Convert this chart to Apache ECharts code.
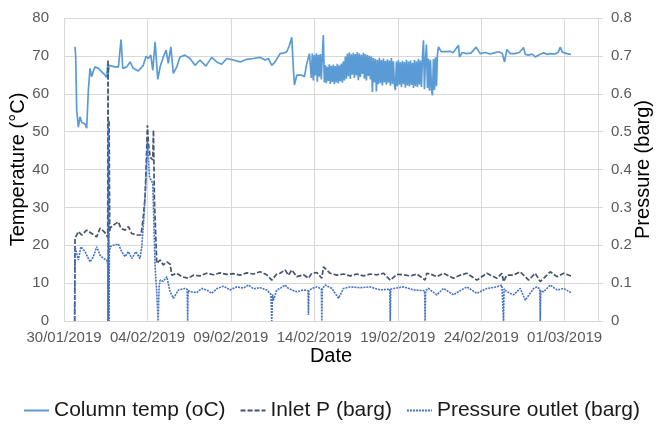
<!DOCTYPE html>
<html><head><meta charset="utf-8">
<script src="https://cdn.jsdelivr.net/npm/echarts/dist/echarts.min.js"></script>
<style>html,body{margin:0;padding:0;background:#fff}#c{width:663px;height:430px}</style>
</head><body><div id="c"></div>
<script>
// x values are days after 30/01/2019
const dateLabels = ['30/01/2019','04/02/2019','09/02/2019','14/02/2019','19/02/2019','24/02/2019','01/03/2019'];
const tempTicks = [0,10,20,30,40,50,60,70,80];
const pressTicks = ['0','0.1','0.2','0.3','0.4','0.5','0.6','0.7','0.8'];

const tempDays = [0.66,0.70,0.76,0.86,0.96,1.06,1.16,1.26,1.36,1.46,1.56,1.66,1.76,1.86,2.06,2.26,2.46,2.56,2.62,2.64,2.70,2.76,3.06,3.26,3.42,3.52,3.76,3.96,4.15,4.45,4.75,4.92,5.05,5.20,5.32,5.46,5.62,5.76,5.95,6.12,6.25,6.40,6.55,6.76,6.95,7.25,7.55,7.85,8.15,8.50,8.85,9.15,9.45,9.75,10.15,10.55,10.95,11.35,11.75,12.05,12.25,12.45,12.65,12.95,13.19,13.35,13.51,13.65,13.75,13.81,13.95,14.25,14.41,14.55,14.71,
14.76,14.82,14.88,14.94,15.00,15.06,15.12,15.18,15.24,15.30,15.36,15.42,15.48,15.54,15.60,15.66,15.72,15.78,15.84,15.90,15.96,16.02,16.08,16.14,16.20,16.26,16.32,16.38,16.44,16.50,16.56,16.62,16.68,16.74,16.80,16.86,16.92,16.98,17.04,17.10,17.16,17.22,17.28,17.34,17.40,17.46,17.52,17.58,17.64,17.70,17.76,17.82,17.88,17.94,18.00,18.06,18.12,18.18,18.24,18.30,18.36,18.42,18.48,18.54,18.60,18.66,18.72,18.78,18.84,18.90,18.96,19.02,19.08,19.14,19.20,19.26,19.32,19.38,19.44,19.50,19.56,19.62,19.68,19.74,19.80,19.86,19.92,19.98,20.04,20.10,20.16,20.22,20.28,20.34,20.40,20.46,20.52,20.58,20.64,20.70,20.76,20.82,20.88,20.94,21.00,21.06,21.12,21.18,21.24,21.30,21.36,21.42,21.48,21.54,21.60,21.66,21.72,21.78,21.84,21.90,21.96,22.02,22.08,22.14,22.20,22.26,22.32,22.38,22.44,22.60,
22.94,23.14,23.32,23.64,23.70,23.86,24.14,24.40,24.70,24.94,25.24,25.54,25.78,26.04,26.26,26.40,26.54,26.74,27.04,27.28,27.54,27.64,27.84,28.06,28.24,28.48,28.74,28.96,29.14,29.44,29.62,29.74,29.86,30.14,30.38];
const tempVals = [72.4,70.0,55.7,51.2,53.9,52.5,53.0,52.0,50.9,61.0,66.7,64.5,66.0,67.1,66.7,65.8,64.9,64.3,68.0,64.5,67.5,68.0,67.1,67.1,74.3,66.7,67.1,68.4,66.7,66.0,67.5,69.9,69.3,70.2,66.2,73.7,63.8,67.1,69.7,71.5,68.0,72.4,65.4,67.1,69.7,70.2,69.3,67.5,68.9,67.3,69.6,68.4,67.8,69.3,68.9,68.4,69.1,69.3,69.6,68.9,69.3,67.5,68.4,70.6,70.8,71.1,72.8,74.9,66.2,62.3,64.9,64.9,64.5,68.0,70.6,
70.4,64.2,70.6,63.5,70.2,64.8,70.7,63.2,70.3,64.5,70.5,63.8,70.0,75.5,63.0,67.6,62.8,67.2,63.4,67.8,62.6,67.4,63.1,67.7,62.5,67.3,63.0,67.9,62.7,67.5,63.3,68.0,62.9,68.6,63.5,69.8,64.0,70.6,64.6,70.9,63.9,70.4,65.0,70.8,64.2,70.5,64.8,71.0,63.6,70.6,64.4,70.3,65.2,70.8,64.0,70.5,63.5,70.2,64.6,70.0,63.8,69.8,60.5,69.4,63.0,69.2,60.6,69.0,62.5,69.5,62.8,68.9,62.2,69.3,63.0,68.7,62.4,69.1,62.9,68.8,62.1,69.4,62.6,68.6,62.3,61.0,68.5,62.0,68.9,62.4,68.3,61.8,68.7,62.5,68.4,61.6,69.0,62.2,68.5,61.9,68.8,62.3,68.2,61.5,68.9,62.0,68.6,61.7,69.2,62.4,68.8,61.8,69.5,74.1,61.2,69.0,73.0,61.5,69.3,60.8,69.0,61.2,59.6,69.2,61.0,69.6,62.0,70.5,72.4,71.1,
71.1,71.2,70.8,72.8,69.7,70.9,70.6,70.8,72.3,70.6,70.9,70.5,70.8,71.1,70.7,68.4,71.7,70.6,70.6,70.9,72.2,70.4,70.2,70.5,69.7,70.3,70.8,70.4,70.6,70.5,71.0,72.3,71.0,70.6,70.4];

const inletDays = [0.64,0.66,0.86,1.06,1.36,1.66,1.96,2.16,2.40,2.56,2.62,2.64,2.66,2.70,2.74,2.76,2.96,3.26,3.40,3.66,3.86,4.06,4.36,4.62,4.75,4.86,4.92,5.00,5.06,5.16,5.32,5.36,5.42,5.56,5.76,5.95,6.16,6.36,6.46,6.76,7.06,7.45,7.75,8.15,8.55,8.95,9.35,9.75,10.15,10.55,10.95,11.35,11.75,12.15,12.45,12.75,12.95,13.25,13.45,13.65,13.95,14.35,14.65,14.85,15.15,15.45,15.55,15.95,16.35,16.75,17.15,17.55,17.95,18.35,18.75,19.15,19.55,19.95,20.35,20.75,21.15,21.64,21.74,21.95,22.34,22.74,23.34,23.74,24.14,24.74,25.34,25.94,26.24,26.34,26.54,26.94,27.34,27.84,28.24,28.54,28.94,29.14,29.54,29.94,30.38];
const inletVals = [0,0.218,0.236,0.227,0.240,0.231,0.222,0.245,0.236,0.227,0.220,0.690,0.000,0.530,0.235,0.245,0.253,0.262,0.245,0.240,0.249,0.231,0.227,0.227,0.275,0.328,0.407,0.517,0.469,0.433,0.425,0.504,0.319,0.152,0.161,0.148,0.156,0.150,0.121,0.126,0.117,0.113,0.121,0.119,0.126,0.122,0.127,0.123,0.125,0.121,0.127,0.124,0.130,0.122,0.108,0.124,0.126,0.135,0.121,0.135,0.117,0.122,0.113,0.126,0.128,0.113,0.143,0.126,0.121,0.124,0.119,0.124,0.119,0.124,0.122,0.126,0.108,0.123,0.122,0.119,0.124,0.108,0.126,0.124,0.117,0.126,0.113,0.121,0.126,0.108,0.126,0.113,0.126,0.104,0.121,0.121,0.130,0.108,0.126,0.104,0.121,0.130,0.117,0.126,0.119];

const outletDays = [0.64,0.66,0.86,1.01,1.26,1.56,1.76,1.96,2.16,2.36,2.56,2.62,2.64,2.66,2.70,2.72,2.76,2.96,3.26,3.46,3.66,3.86,4.06,4.31,4.55,4.66,4.80,4.92,5.00,5.12,5.20,5.32,5.46,5.56,5.64,5.70,5.76,5.95,6.16,6.36,6.56,6.86,7.25,7.38,7.41,7.44,7.65,7.95,8.25,8.55,8.85,9.15,9.55,9.95,10.35,10.75,11.05,11.35,11.75,12.15,12.40,12.45,12.50,12.55,12.75,12.95,13.25,13.45,13.65,13.95,14.35,14.62,14.65,14.68,14.85,15.15,15.42,15.45,15.48,15.65,16.05,16.45,16.75,17.15,17.75,18.35,18.95,19.52,19.55,19.58,19.75,20.35,20.94,21.61,21.64,21.67,21.84,22.34,22.74,23.34,23.74,24.14,24.74,25.34,25.94,26.24,26.31,26.34,26.37,26.54,26.94,27.34,27.64,28.14,28.34,28.51,28.54,28.57,28.74,29.14,29.54,29.94,30.38];
const outletVals = [0,0.196,0.161,0.196,0.183,0.156,0.170,0.196,0.174,0.165,0.161,0.150,0.000,0.530,0.000,0.180,0.196,0.200,0.203,0.183,0.170,0.183,0.165,0.183,0.165,0.196,0.280,0.380,0.478,0.381,0.385,0.363,0.143,0.073,0.000,0.090,0.108,0.105,0.117,0.077,0.060,0.082,0.086,0.084,0.000,0.080,0.077,0.075,0.086,0.082,0.073,0.085,0.092,0.082,0.090,0.087,0.095,0.085,0.088,0.082,0.070,0.000,0.070,0.055,0.082,0.086,0.095,0.086,0.082,0.077,0.082,0.080,0.016,0.080,0.086,0.090,0.085,0.000,0.085,0.095,0.086,0.060,0.086,0.090,0.088,0.090,0.082,0.084,0.000,0.084,0.086,0.090,0.082,0.080,0.000,0.080,0.086,0.069,0.086,0.069,0.080,0.090,0.073,0.086,0.090,0.095,0.090,0.000,0.085,0.077,0.069,0.086,0.055,0.086,0.090,0.085,0.000,0.080,0.077,0.095,0.082,0.086,0.075];

function pairs(xs, ys){ return xs.map((x,i)=>[x, ys[i]]); }

const chart = echarts.init(document.getElementById('c'), null, {renderer:'canvas'});
const gridColor = '#d9d9d9';
const labColor = '#595959';
const font = 'Liberation Sans, Arial, sans-serif';
chart.setOption({
  animation:false,
  backgroundColor:'#fff',
  textStyle:{fontFamily:font},
  grid:{left:64,right:65,top:18,bottom:109,containLabel:false,outerBoundsMode:'none'},
  legend:{
    bottom:4, left:'center',
    itemWidth:25, itemHeight:14, itemGap:14,
    itemStyle:{color:'rgba(0,0,0,0)',borderColor:'rgba(0,0,0,0)',borderWidth:0},
    textStyle:{fontSize:21,color:'#1a1a1a',fontFamily:font},
    data:['Column temp (oC)','Inlet P (barg)','Pressure outlet (barg)']
  },
  xAxis:{
    type:'value', min:0, max:32, interval:5,
    name:'Date', nameLocation:'middle', nameGap:25, nameMoveOverlap:false,
    nameTextStyle:{fontSize:20,color:'#000',fontFamily:font},
    axisLine:{show:true,lineStyle:{color:gridColor}},
    axisTick:{show:false},
    axisLabel:{color:labColor,fontSize:15,margin:9,showMaxLabel:false,
      formatter:v=>{const i=Math.round(v/5); return (v%5===0 && i<dateLabels.length)?dateLabels[i]:'';}},
    splitLine:{show:true,lineStyle:{color:gridColor,width:1}}
  },
  yAxis:[{
    type:'value', min:0, max:80, interval:10,
    name:'Temperature (°C)', nameLocation:'middle', nameGap:36, nameRotate:90, nameMoveOverlap:false,
    nameTextStyle:{fontSize:20,color:'#000',fontFamily:font},
    axisLine:{show:false}, axisTick:{show:false},
    axisLabel:{color:labColor,fontSize:15,margin:15,formatter:v=>String(tempTicks[Math.round(v/10)])},
    splitLine:{show:true,lineStyle:{color:gridColor,width:1}}
  },{
    type:'value', min:0, max:0.8, interval:0.1,
    name:'Pressure (barg)', nameLocation:'middle', nameGap:35, nameRotate:90, nameMoveOverlap:false,
    nameTextStyle:{fontSize:20,color:'#000',fontFamily:font},
    axisLine:{show:true,lineStyle:{color:gridColor}},
    axisTick:{show:true,length:5,lineStyle:{color:gridColor}},
    axisLabel:{color:labColor,fontSize:15,margin:13,formatter:v=>pressTicks[Math.round(v*10)]},
    splitLine:{show:false}
  }],
  series:[
    {name:'Column temp (oC)', type:'line', yAxisIndex:0, showSymbol:false, symbol:'none',
     data:pairs(tempDays,tempVals), color:'#5B9BD5', lineStyle:{color:'#5B9BD5',width:1.7}},
    {name:'Inlet P (barg)', type:'line', yAxisIndex:1, showSymbol:false, symbol:'none',
     data:pairs(inletDays,inletVals), color:'#44546A', lineStyle:{color:'#44546A',width:1.7,type:[5,2]}},
    {name:'Pressure outlet (barg)', type:'line', yAxisIndex:1, showSymbol:false, symbol:'none',
     data:pairs(outletDays,outletVals), color:'#4472C4', lineStyle:{color:'#4472C4',width:1.6,type:[2,1]}}
  ]
});
</script></body></html>
